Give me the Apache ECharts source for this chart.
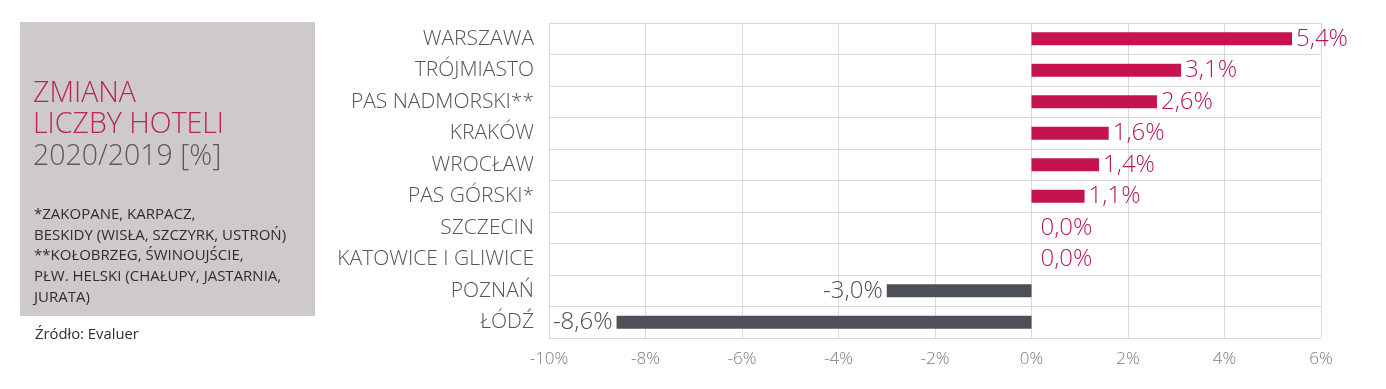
<!DOCTYPE html>
<html><head><meta charset="utf-8">
<script src="https://cdn.jsdelivr.net/npm/echarts@6/dist/echarts.min.js"></script>
<style>html,body{margin:0;padding:0;background:#fff}#c{width:1386px;height:389px}</style>
</head><body><div id="c"></div>
<script>
const categories = ["WARSZAWA","TRÓJMIASTO","PAS NADMORSKI**","KRAKÓW","WROCŁAW","PAS GÓRSKI*","SZCZECIN","KATOWICE I GLIWICE","POZNAŃ","ŁÓDŹ"];
const values = [5.4, 3.1, 2.6, 1.6, 1.4, 1.1, 0.0, 0.0, -3.0, -8.6];
const titleLines = ["ZMIANA","LICZBY HOTELI","2020/2019 [%]"];
const noteLines = ["*ZAKOPANE, KARPACZ,","BESKIDY (WISŁA, SZCZYRK, USTROŃ)","**KOŁOBRZEG, ŚWINOUJŚCIE,","PŁW. HELSKI (CHAŁUPY, JASTARNIA,","JURATA)"];
const sourceText = "Źródło: Evaluer";

const POS = "#C5134F", NEG = "#4D5058", POSLAB = "#B51A58", NEGLAB = "#4D4D4D";
const fmt = v => v.toFixed(1).replace('.', ',') + '%';
const FF = "'Open Sans', sans-serif";

const graphics = [
  {type:'rect', left:20, top:22, shape:{width:295, height:294}, style:{fill:'#CDCAC9'}, silent:true}
];
titleLines.forEach((t,i)=>graphics.push({type:'text', left:33, top:79+i*31.5, style:{text:t, font:"300 28.5px "+FF, fill: i<2 ? '#B8245E' : '#5A5A5A'}}));
noteLines.forEach((t,i)=>graphics.push({type:'text', left:34, top:207+i*20.8, style:{text:t, font:"400 15px "+FF, fill:'#2E2E2E'}}));
graphics.push({type:'text', left:35, top:327, style:{text:sourceText, font:"400 14.8px "+FF, fill:'#2E2E2E'}});

const chart = echarts.init(document.getElementById('c'));
chart.setOption({
  animation:false,
  grid:{left:549, right:65, top:23, bottom:51, containLabel:false},
  graphic: graphics,
  xAxis:{type:'value', min:-10, max:6, interval:2,
    axisLine:{show:false}, axisTick:{show:false},
    splitLine:{show:true, lineStyle:{color:'#D9D9D9', width:1}},
    axisLabel:{formatter:v=>v+'%', color:'#7A7A7A', fontSize:17, fontFamily:FF, fontWeight:300, margin:13}},
  yAxis:{type:'category', data:categories, inverse:true,
    axisLine:{show:false}, axisTick:{show:false},
    splitLine:{show:true, lineStyle:{color:'#D9D9D9', width:1}},
    axisLabel:{color:'#555', fontSize:21, fontFamily:FF, fontWeight:300, margin:15}},
  series:[{type:'bar', barWidth:13,
    data: values.map(v=>({value:v, itemStyle:{color: v<0?NEG:POS},
      label:{show:true, position: v<0?'left':'right', distance: v===0?9:4, formatter:fmt(v),
        color: v<0?NEGLAB:POSLAB, fontSize:24, fontFamily:FF, fontWeight:300}}))
  }]
});
</script></body></html>
